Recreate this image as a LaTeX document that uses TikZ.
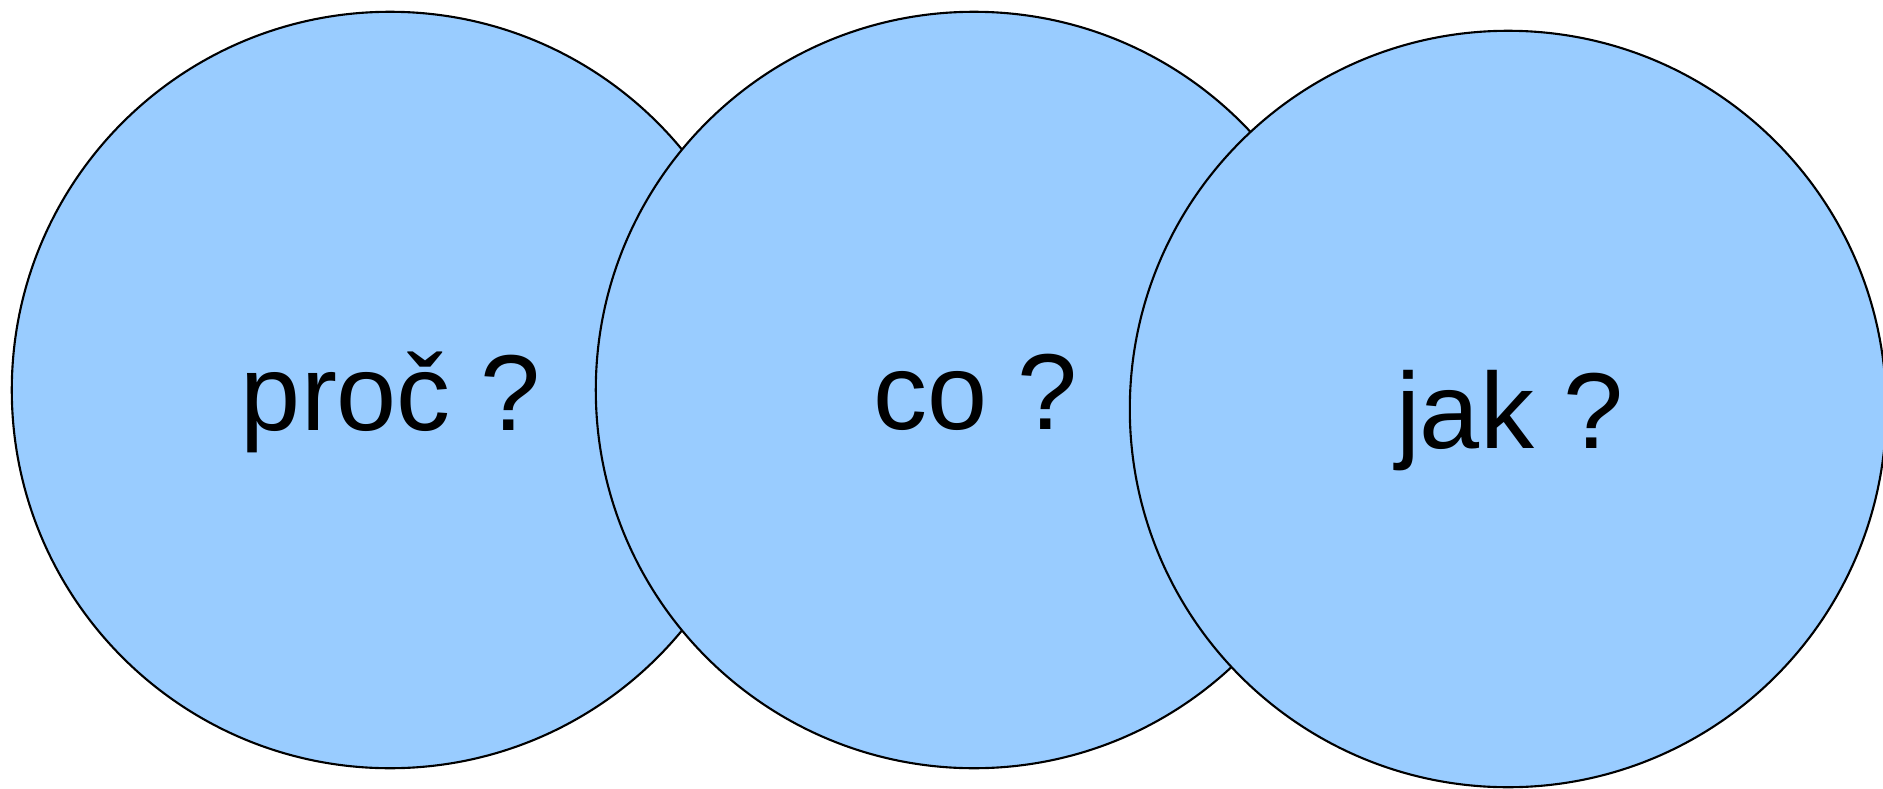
\documentclass[tikz,border=0pt]{standalone}
\usepackage{fontspec}
\setmainfont{Liberation Sans}
\usepackage{xcolor}
\usepackage{tikz}
\definecolor{modra}{HTML}{99CCFF}

\begin{document}
\begin{tikzpicture}[
		    x=0.01cm, y=-0.01cm,
		    every node/.style={inner sep=0pt, font=\fontsize{30.7}{36}\selectfont}
		]
		\tikzset{
		    kruh/.style={draw=black, line width=0.6pt, fill=modra, circle, minimum size=7.56cm},
		    popis/.style={anchor=base, text=black}
		}
		\useasboundingbox (0,0) rectangle (1883,788);
		\clip (0,0) rectangle (1883,788);
		% kruhy
		\node[kruh] (proc) at (390,390) {};
		\node[kruh] (co) at (974,390) {};
		\node[kruh] (jak) at (1508,409) {};
		% popisky
		\node[popis] (proctext) at (391,430) {proč ?};
		\node[popis] (cotext) at (976,429) {co ?};
		\node[popis] (jaktext) at (1510,448) {jak ?};
		\end{tikzpicture}
\end{document}
